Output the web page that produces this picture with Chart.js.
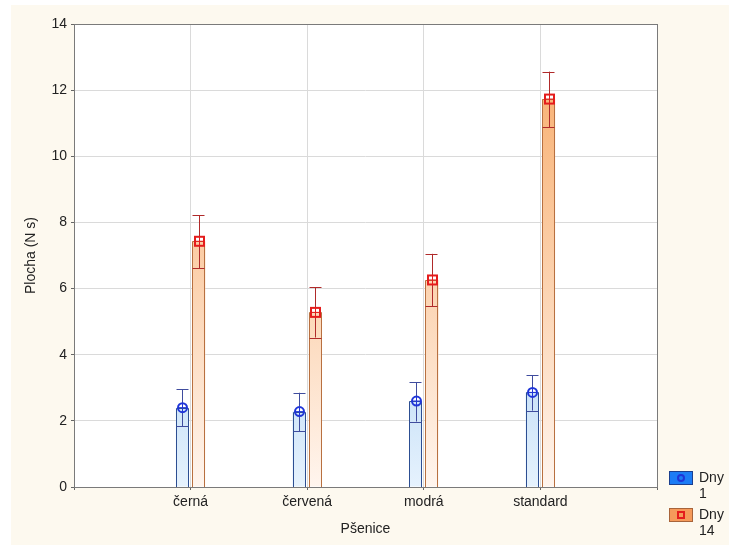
<!DOCTYPE html>
<html>
<head>
<meta charset="utf-8">
<script src="https://cdn.jsdelivr.net/npm/chart.js@4.4.0/dist/chart.umd.min.js"></script>
<style>
  html, body { margin: 0; padding: 0; background: #fff; }
</style>
</head>
<body>
<canvas id="graf" width="729" height="545"></canvas>
<script>
var kategorie = ['černá', 'červená', 'modrá', 'standard']
var dny1 = [2.40, 2.28, 2.60, 2.86]
var dny1Min = [1.83, 1.69, 1.98, 2.31]
var dny1Max = [2.95, 2.85, 3.17, 3.38]
var dny14 = [7.43, 5.28, 6.26, 11.73]
var dny14Min = [6.62, 4.52, 5.47, 10.88]
var dny14Max = [8.21, 6.04, 7.05, 12.56]
var yMin = 0, yMax = 14, yKrok = 2

// prazdne pozice na okrajich, aby kategorie sedely na 1..4 z 0..5
var popisky = [''].concat(kategorie, [''])
function rozsir(pole) { return [null].concat(pole, [null]) }

var pismo = "'Liberation Sans', Arial, sans-serif"

function gradient(ctx, stops) {
    var area = ctx.chart.chartArea
    if (!area) return null
    var g = ctx.chart.ctx.createLinearGradient(0, area.top, 0, area.bottom)
    stops.forEach(function (s) { g.addColorStop(s[0], s[1]) })
    return g
}

var serie = [
    { label: 'Dny 1', prumer: dny1, min: dny1Min, max: dny1Max, znacka: 'kruh', okraj: '#2c4e92',
      chyba: '#3f4c9e', barva: '#1f35d8', legenda: '#1c7cf5', legendaOkraj: '#1b3f8f' },
    { label: 'Dny 14', prumer: dny14, min: dny14Min, max: dny14Max, znacka: 'ctverec', okraj: '#b87040',
      chyba: '#b02a2a', barva: '#e41c1c', legenda: '#f59a5a', legendaOkraj: '#a8643a' }
]

var pozadi = {
    id: 'pozadi',
    beforeDraw: function (chart) {
        var ctx = chart.ctx, a = chart.chartArea
        ctx.save()
        ctx.fillStyle = '#ffffff'
        ctx.fillRect(0, 0, chart.width, chart.height)
        ctx.fillStyle = '#fdf9ef'
        ctx.fillRect(11, 5, chart.width - 11, chart.height - 5)
        ctx.fillStyle = '#ffffff'
        ctx.fillRect(a.left, a.top, a.right - a.left, a.bottom - a.top)
        ctx.restore()
    }
}

var chyby = {
    id: 'chyby',
    afterDatasetsDraw: function (chart) {
        var ctx = chart.ctx, y = chart.scales.y, a = chart.chartArea
        ctx.save()
        serie.forEach(function (s, i) {
            var meta = chart.getDatasetMeta(i)
            meta.data.forEach(function (el, j) {
                var k = j - 1
                if (k < 0 || k >= s.prumer.length) return
                // obrys sloupce
                var l = Math.round(el.x - el.width / 2) + 0.5
                var r = Math.round(el.x + el.width / 2) - 0.5
                var t = Math.round(el.y) + 0.5
                var b = Math.round(el.base)
                ctx.strokeStyle = s.okraj
                ctx.lineWidth = 1
                ctx.beginPath()
                ctx.moveTo(l, b); ctx.lineTo(l, t); ctx.lineTo(r, t); ctx.lineTo(r, b)
                ctx.stroke()

                var x = Math.round(el.x) + 0.5
                var w = el.width
                var yh = y.getPixelForValue(s.max[k])
                var yl = y.getPixelForValue(s.min[k])
                var ym = y.getPixelForValue(s.prumer[k])
                ctx.strokeStyle = s.chyba
                ctx.beginPath()
                ctx.moveTo(x, yh); ctx.lineTo(x, yl)
                ctx.moveTo(l, Math.round(yh) + 0.5); ctx.lineTo(r, Math.round(yh) + 0.5)
                ctx.moveTo(l, Math.round(yl) + 0.5); ctx.lineTo(r, Math.round(yl) + 0.5)
                ctx.stroke()
                kresliZnacku(ctx, s, x, ym)
            })
        })
        ctx.strokeStyle = '#7a7a7a'
        ctx.lineWidth = 1
        ctx.strokeRect(Math.round(a.left) + 0.5, Math.round(a.top) + 0.5,
            Math.round(a.right - a.left), Math.round(a.bottom - a.top))
        ctx.restore()
    },
    afterDraw: function (chart) {
        var ctx = chart.ctx
        ctx.save()
        serie.forEach(function (s, i) {
            var top = 471 + i * 37
            ctx.fillStyle = s.legenda
            ctx.fillRect(669.5, top + 0.5, 23, 13)
            ctx.strokeStyle = s.legendaOkraj
            ctx.lineWidth = 1
            ctx.strokeRect(669.5, top + 0.5, 23, 13)
            kresliZnacku(ctx, s, 681, top + 7, true)
            var casti = s.label.split(' ')
            ctx.fillStyle = '#222'
            ctx.font = '14px ' + pismo
            ctx.textBaseline = 'middle'
            ctx.textAlign = 'left'
            ctx.fillText(casti[0], 699, top + 7)
            ctx.fillText(casti[1], 699, top + 23)
        })
        ctx.restore()
    }
}

function kresliZnacku(ctx, s, x, y, maly) {
    ctx.strokeStyle = s.barva
    ctx.lineWidth = 2
    if (s.znacka === 'kruh') {
        var r = maly ? 3 : 4.5
        ctx.beginPath()
        ctx.arc(x, y, r, 0, Math.PI * 2)
        ctx.stroke()
        if (!maly) {
            ctx.lineWidth = 1
            ctx.beginPath()
            ctx.moveTo(x - r, y); ctx.lineTo(x + r, y)
            ctx.moveTo(x, y - r); ctx.lineTo(x, y + r)
            ctx.stroke()
        }
    } else {
        var h = maly ? 3 : 4.5
        ctx.strokeRect(x - h, y - h, h * 2, h * 2)
        if (!maly) {
            ctx.lineWidth = 1
            ctx.beginPath()
            ctx.moveTo(x - h, y); ctx.lineTo(x + h, y)
            ctx.moveTo(x, y - h); ctx.lineTo(x, y + h)
            ctx.stroke()
        }
    }
}

var graf = new Chart(document.getElementById('graf').getContext('2d'), {
    type: 'bar',
    data: {
        labels: popisky,
        datasets: [{
            label: serie[0].label,
            data: rozsir(dny1),
            backgroundColor: function (c) { return gradient(c, [[0, '#9cc8f0'], [0.76, '#c6e0f7'], [1, '#e6f2fd']]) },
            borderWidth: 0,
            inflateAmount: 0,
            categoryPercentage: 0.28,
            barPercentage: 0.8
        }, {
            label: serie[1].label,
            data: rozsir(dny14),
            backgroundColor: function (c) { return gradient(c, [[0, '#f7a864'], [0.45, '#fbcaa0'], [1, '#fff5ee']]) },
            borderWidth: 0,
            inflateAmount: 0,
            categoryPercentage: 0.28,
            barPercentage: 0.8
        }]
    },
    options: {
        responsive: false,
        animation: false,
        layout: { padding: { left: 0, top: 24, right: 72, bottom: 0 } },
        plugins: {
            legend: { display: false },
            tooltip: { enabled: false }
        },
        scales: {
            x: {
                offset: false,
                grid: { offset: false, color: '#dadada', tickLength: 3, tickColor: '#666' },
                border: { display: false },
                ticks: { color: '#222', padding: 4, font: { size: 14, family: pismo }, maxRotation: 0, autoSkip: false },
                title: { display: true, text: 'Pšenice', color: '#222', font: { size: 14, family: pismo }, padding: { top: 0, bottom: 7 } },
                afterFit: function (s) { s.height = 58 }
            },
            y: {
                min: yMin,
                max: yMax,
                ticks: { stepSize: yKrok, color: '#222', padding: 4, font: { size: 14, family: pismo } },
                grid: { color: '#dadada', tickLength: 3, tickColor: '#666' },
                border: { display: false },
                title: { display: true, text: 'Plocha (N s)', color: '#222', font: { size: 14, family: pismo }, padding: { top: 23, bottom: 0 } },
                afterFit: function (s) { s.width = 74 }
            }
        }
    },
    plugins: [pozadi, chyby]
});
</script>
</body>
</html>
